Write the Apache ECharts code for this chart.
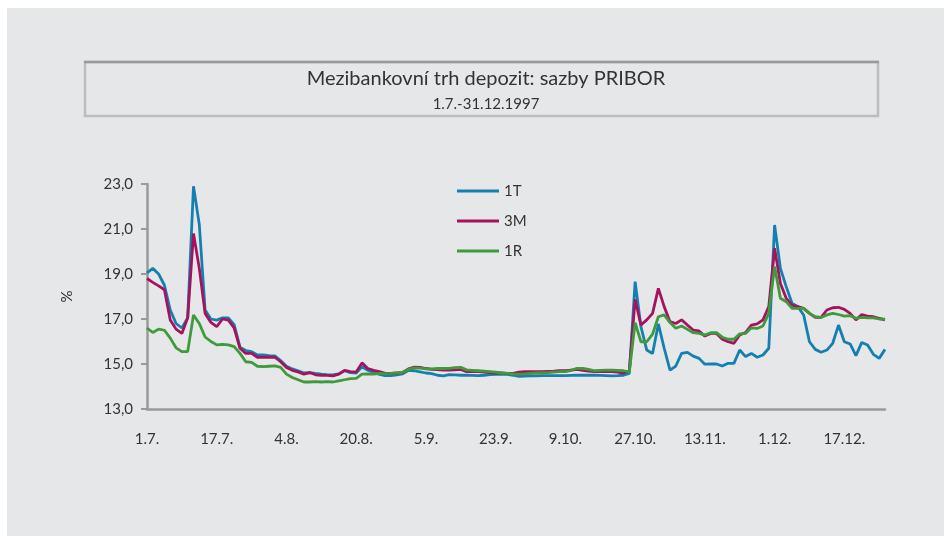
<!DOCTYPE html>
<html>
<head>
<meta charset="utf-8">
<title>PRIBOR 1997</title>
<script src="https://cdn.jsdelivr.net/npm/echarts@6/dist/echarts.min.js"></script>
<style>
  html, body { margin: 0; padding: 0; background: #ffffff; }
  #chart { width: 952px; height: 536px; }
</style>
</head>
<body>
<div id="chart"></div>
<script>
// business days 1.7. - 31.12.1997 (28.10., 24.-26.12. are holidays)
var julDays = [1, 2, 3, 4, 7, 8, 9, 10, 11, 14, 15, 16, 17, 18, 21, 22, 23, 24, 25, 28, 29, 30, 31];
var augDays = [1, 4, 5, 6, 7, 8, 11, 12, 13, 14, 15, 18, 19, 20, 21, 22, 25, 26, 27, 28, 29];
var sepDays = [1, 2, 3, 4, 5, 8, 9, 10, 11, 12, 15, 16, 17, 18, 19, 22, 23, 24, 25, 26, 29, 30];
var octDays = [1, 2, 3, 6, 7, 8, 9, 10, 13, 14, 15, 16, 17, 20, 21, 22, 23, 24, 27, 29, 30, 31];
var novDays = [3, 4, 5, 6, 7, 10, 11, 12, 13, 14, 17, 18, 19, 20, 21, 24, 25, 26, 27, 28];
var decDays = [1, 2, 3, 4, 5, 8, 9, 10, 11, 12, 15, 16, 17, 18, 19, 22, 23, 29, 30, 31];

var dates = [].concat(
    julDays.map(function (d) { return d + '.7.'; }),
    augDays.map(function (d) { return d + '.8.'; }),
    sepDays.map(function (d) { return d + '.9.'; }),
    octDays.map(function (d) { return d + '.10.'; }),
    novDays.map(function (d) { return d + '.11.'; }),
    decDays.map(function (d) { return d + '.12.'; })
);

var rate1T = [
    19.05, 19.25, 19.0, 18.5, 17.4, 16.8, 16.6, 17.05, 22.9, 21.2,
    17.4, 17.0, 16.95, 17.05, 17.05, 16.75, 15.75, 15.6, 15.55, 15.4,
    15.4, 15.37, 15.36, 15.15, 14.9, 14.78, 14.7, 14.6, 14.62, 14.58,
    14.55, 14.53, 14.52, 14.56, 14.7, 14.62, 14.6, 14.88, 14.72, 14.62,
    14.54, 14.48, 14.48, 14.52, 14.56, 14.72, 14.7, 14.65, 14.6, 14.57,
    14.5, 14.47, 14.53, 14.52, 14.5, 14.5, 14.49, 14.48, 14.5, 14.53,
    14.54, 14.54, 14.54, 14.5, 14.45, 14.46, 14.47, 14.47, 14.48, 14.48,
    14.48, 14.48, 14.48, 14.49, 14.5, 14.5, 14.5, 14.5, 14.49, 14.48,
    14.47, 14.48, 14.5, 14.58, 18.66, 16.66, 15.62, 15.47, 16.78, 15.7,
    14.73, 14.91, 15.47, 15.52, 15.35, 15.25, 14.99, 15.0, 15.0, 14.91,
    15.03, 15.03, 15.62, 15.33, 15.47, 15.3, 15.4, 15.7, 21.18, 19.25,
    18.44, 17.7, 17.55, 17.18, 15.99, 15.65, 15.52, 15.62, 15.92, 16.73,
    15.99, 15.89, 15.37, 15.96, 15.84, 15.43, 15.25, 15.65
];

var rate3M = [
    18.8, 18.63, 18.47, 18.3, 16.96, 16.55, 16.36, 17.05, 20.8, 19.25,
    17.25, 16.85, 16.66, 17.0, 16.95, 16.6, 15.7, 15.47, 15.47, 15.3,
    15.3, 15.3, 15.3, 15.1, 14.85, 14.72, 14.65, 14.55, 14.62, 14.52,
    14.5, 14.49, 14.47, 14.55, 14.72, 14.66, 14.64, 15.05, 14.8, 14.72,
    14.66, 14.58, 14.58, 14.6, 14.62, 14.78, 14.86, 14.85, 14.8, 14.76,
    14.75, 14.73, 14.73, 14.74, 14.76, 14.66, 14.66, 14.66, 14.64, 14.62,
    14.6, 14.6, 14.58, 14.58, 14.64, 14.66, 14.66, 14.66, 14.66, 14.67,
    14.68, 14.7, 14.7, 14.73, 14.76, 14.72, 14.68, 14.66, 14.66, 14.66,
    14.66, 14.64, 14.6, 14.7, 17.87, 16.73, 16.96, 17.25, 18.36, 17.55,
    16.88, 16.8, 16.96, 16.73, 16.51, 16.47, 16.24, 16.36, 16.36, 16.1,
    15.99, 15.92, 16.29, 16.4, 16.73, 16.78, 16.96, 17.55, 20.14, 18.58,
    17.92, 17.62, 17.55, 17.47, 17.25, 17.07, 17.07, 17.4, 17.5, 17.52,
    17.43, 17.25, 16.96, 17.2, 17.13, 17.1, 17.03, 16.96
];

var rate1R = [
    16.6, 16.4, 16.55, 16.5, 16.15, 15.72, 15.55, 15.55, 17.18, 16.8,
    16.2, 16.0, 15.85, 15.87, 15.85, 15.77, 15.47, 15.1, 15.07, 14.9,
    14.88, 14.9, 14.92, 14.85, 14.55, 14.4, 14.3, 14.2, 14.2, 14.22,
    14.2, 14.22, 14.2, 14.25, 14.3, 14.35, 14.36, 14.55, 14.56, 14.55,
    14.58, 14.57, 14.58, 14.6, 14.63, 14.76, 14.83, 14.82, 14.78, 14.78,
    14.8, 14.8, 14.81, 14.84, 14.85, 14.74, 14.72, 14.7, 14.68, 14.66,
    14.64, 14.6, 14.58, 14.56, 14.55, 14.56, 14.58, 14.6, 14.6, 14.62,
    14.64, 14.66, 14.66, 14.72, 14.81, 14.8, 14.76, 14.7, 14.72, 14.73,
    14.73, 14.72, 14.7, 14.65, 16.84, 15.99, 15.99, 16.33, 17.1, 17.18,
    16.84, 16.59, 16.69, 16.54, 16.39, 16.36, 16.29, 16.39, 16.39, 16.19,
    16.1, 16.1, 16.34, 16.36, 16.61, 16.58, 16.69, 17.25, 19.33, 17.92,
    17.77, 17.47, 17.47, 17.47, 17.25, 17.1, 17.07, 17.18, 17.25, 17.2,
    17.13, 17.15, 17.03, 17.07, 17.05, 17.05, 17.0, 16.99
];

var FONT = 'Lato';

function initChart() {
    var myChart = echarts.init(document.getElementById('chart'));

    function lineSeries(name, data, color) {
        return {
            name: name,
            type: 'line',
            data: data,
            symbol: 'none',
            smooth: false,
            lineStyle: { color: color, width: 2.8 },
            itemStyle: { color: color },
            animation: false
        };
    }

    var option = {
        animation: false,
        textStyle: { fontFamily: FONT },
        graphic: [
            {
                type: 'rect',
                z: -10,
                shape: { x: 7, y: 8, width: 937, height: 528 },
                style: { fill: '#e6e7e9' }
            },
            {
                type: 'rect',
                z: -5,
                shape: { x: 85, y: 62, width: 793, height: 54 },
                style: { fill: 'none', stroke: '#bdbdbd', lineWidth: 2.5 }
            },
            {
                type: 'line',
                z: -4,
                shape: { x1: 84, y1: 62, x2: 879, y2: 62 },
                style: { stroke: '#9a9a9a', lineWidth: 2.5 }
            }
        ],
        title: {
            text: 'Mezibankovní trh depozit: sazby PRIBOR',
            subtext: '1.7.-31.12.1997',
            left: 481,
            top: 64,
            textAlign: 'center',
            itemGap: 8,
            textStyle: { fontFamily: FONT, fontSize: 20, fontWeight: 'normal', color: '#333333' },
            subtextStyle: { fontFamily: FONT, fontSize: 15, color: '#333333' }
        },
        legend: {
            orient: 'vertical',
            left: 452,
            top: 178,
            icon: 'rect',
            itemWidth: 42,
            itemHeight: 3,
            itemGap: 14,
            textStyle: { fontFamily: FONT, fontSize: 15, lineHeight: 16, color: '#333333' },
            data: ['1T', '3M', '1R']
        },
        grid: {
            left: 147,
            right: 67,
            top: 184,
            bottom: 127
        },
        xAxis: {
            type: 'category',
            data: dates,
            boundaryGap: false,
            axisLine: { lineStyle: { color: '#9a9a9a', width: 2.5 } },
            axisTick: { show: false },
            axisLabel: {
                interval: 11,
                margin: 23,
                fontFamily: FONT,
                fontSize: 15,
                color: '#333333'
            },
            splitLine: { show: false }
        },
        yAxis: {
            type: 'value',
            min: 13,
            max: 23,
            interval: 2,
            name: '%',
            nameLocation: 'middle',
            nameGap: 72,
            nameRotate: 90,
            nameTextStyle: { fontFamily: FONT, fontSize: 15, color: '#333333' },
            axisLine: { show: true, lineStyle: { color: '#9a9a9a', width: 2.5 } },
            axisTick: { show: true, length: 6, lineStyle: { color: '#9a9a9a', width: 2 } },
            axisLabel: {
                margin: 14,
                fontFamily: FONT,
                fontSize: 15,
                color: '#333333',
                formatter: function (v) { return v.toFixed(1).replace('.', ','); }
            },
            splitLine: { show: false }
        },
        series: [
            lineSeries('1T', rate1T, '#1580b0'),
            lineSeries('3M', rate3M, '#a5135f'),
            lineSeries('1R', rate1R, '#3e9a3b')
        ]
    };
    myChart.clear();
    myChart.setOption(option);
}

initChart();
</script>
</body>
</html>
